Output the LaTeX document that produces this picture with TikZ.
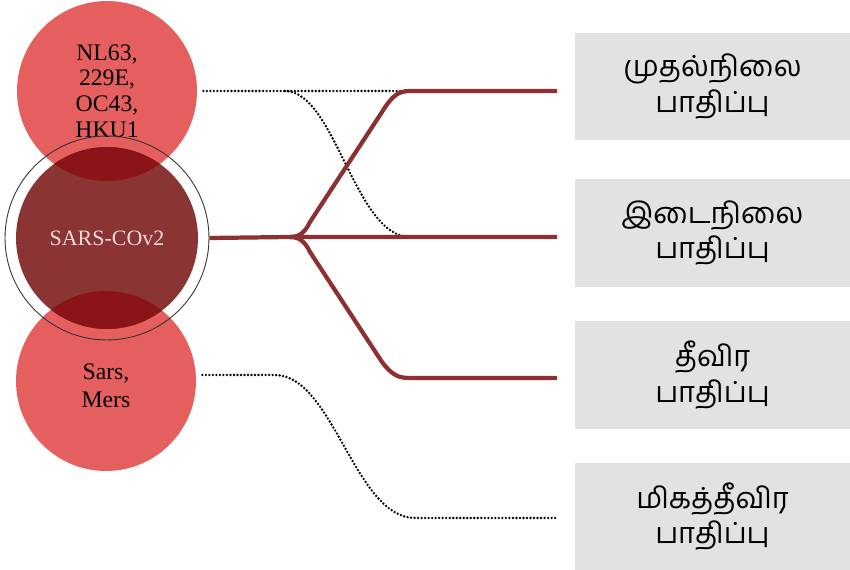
\documentclass[tikz,border=0pt]{standalone}
\usepackage{fontspec}
\setmainfont{Liberation Serif}
\newfontfamily\tamilfont[Script=Tamil]{Hind Madurai}
\definecolor{lightred}{HTML}{E65F5F}
\definecolor{corered}{HTML}{8A3434}
\definecolor{overlapred}{HTML}{8A1418}
\definecolor{routered}{HTML}{8C3030}
\definecolor{levelgray}{HTML}{E2E2E5}
\definecolor{palepink}{HTML}{F2D8D8}
\tikzset{
  virus/.style={circle,fill=lightred,minimum size=3.6cm,inner sep=0pt,align=center,
    font=\fontsize{13.5}{14.6}\selectfont},
  ring/.style={circle,draw=black!80,line width=0.5pt,minimum size=4.08cm,inner sep=0pt,
    text=palepink,font=\fontsize{12.5}{14}\selectfont},
  level/.style={fill=levelgray,minimum width=5.5cm,minimum height=2.15cm,inner sep=0pt,
    align=center,font=\tamilfont\fontsize{16.5}{20}\selectfont},
  route/.style={draw=routered,line width=2.4pt},
  trace/.style={draw=black,line width=1.5pt,line cap=round,dash pattern=on 0pt off 2pt}
}
\begin{document}
\begin{tikzpicture}[x=0.02cm,y=-0.02cm]
  \useasboundingbox (0,0) rectangle (850,570);

  % the three groups of viruses
  \node[virus] (common) at (107,91) {NL63,\\229E,\\OC43,\\HKU1};
  \fill[lightred] (106,381) circle (1.8cm);
  \node[virus,fill=none,font=\fontsize{13.5}{16}\selectfont] (severe) at (106,386) {Sars,\\Mers};
  \fill[corered] (107,238) circle (1.82cm);
  \begin{scope}
    \clip (107,238) circle (1.82cm);
    \fill[overlapred] (common) circle (1.8cm);
    \fill[overlapred] (106,381) circle (1.8cm);
  \end{scope}
  \node[ring] (sars) at (107,238) {SARS-COv2};

  % levels of effect
  \node[level] (mild)   at (712.5,86.5) {முதல்நிலை\\பாதிப்பு};
  \node[level] (middle) at (712.5,233) {இடைநிலை\\பாதிப்பு};
  \node[level] (hard)   at (712.5,375) {தீவிர\\பாதிப்பு};
  \node[level] (worst)  at (712.5,516.5) {மிகத்தீவிர\\பாதிப்பு};

  \coordinate (split) at (290,237);
  \coordinate (e1) at (557,91);
  \coordinate (e2) at (557,237);
  \coordinate (e3) at (557,378);
  \coordinate (e4) at (557,518);

  % dotted routes of the older viruses
  \draw[trace] ([xshift=0.12cm]common.east) -- (405,91);
  \draw[trace] (285,91) .. controls (335,91) and (355,237) .. (410,237);
  \draw[trace] ([xshift=0.12cm]severe.east |- 0,375) -- (275,375)
    .. controls (333,375) and (355,518) .. (415,518) -- (e4);

  % routes of SARS-COv2
  \draw[route] (sars.east) -- (split) -- (e2);
  \draw[route] (split) .. controls (300,237) and (305,232) .. (310,222) -- (382,112)
    .. controls (392,96) and (398,91) .. (410,91) -- (e1);
  \draw[route] (split) .. controls (300,237) and (305,242) .. (310,252) -- (382,362)
    .. controls (392,375) and (398,378) .. (410,378) -- (e3);
\end{tikzpicture}
\end{document}
